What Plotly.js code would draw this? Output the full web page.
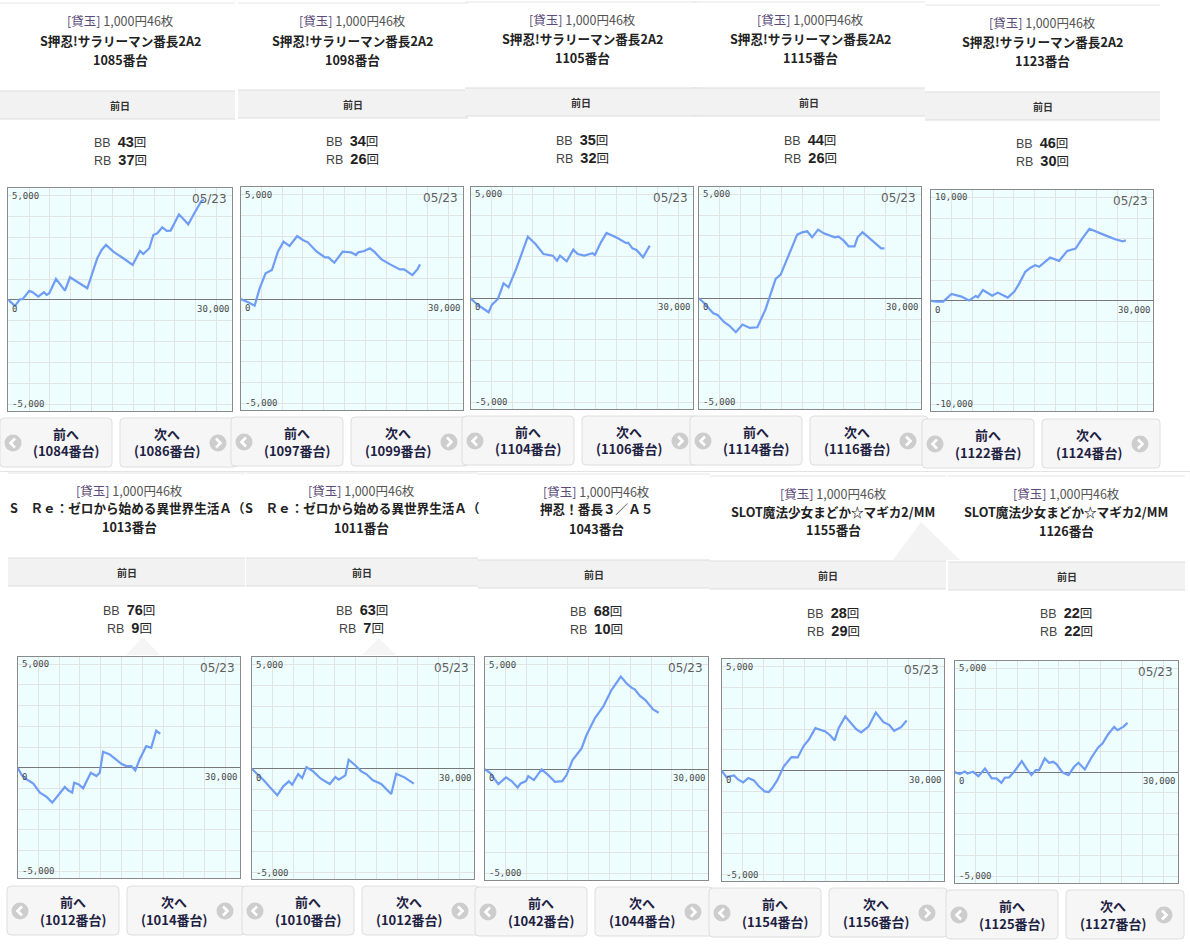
<!DOCTYPE html>
<html><head><meta charset="utf-8">
<script src="https://cdn.plot.ly/plotly-3.0.1.min.js"></script>
<style>html,body{margin:0;padding:0;background:#fff;}#chart{width:1190px;height:946px;}</style>
</head><body><div id="chart"></div>
<script>
// ---------------- data ----------------
const dateLabel = '05/23';
const rateTag = '[貸玉]';
const rateLabel = '1,000円46枚';
const dayLabel = '前日';
const prevLabel = '前へ';
const nextLabel = '次へ';
const machineNames = [
  'S押忍!サラリーマン番長2A2','S押忍!サラリーマン番長2A2','S押忍!サラリーマン番長2A2','S押忍!サラリーマン番長2A2','S押忍!サラリーマン番長2A2',
  'S　Ｒｅ：ゼロから始める異世界生活Ａ（','S　Ｒｅ：ゼロから始める異世界生活Ａ（','押忍！番長３／Ａ５','SLOT魔法少女まどか☆マギカ2/MM','SLOT魔法少女まどか☆マギカ2/MM'
];
const unitNumbers = [1085,1098,1105,1115,1123,1013,1011,1043,1155,1126];
const bbCounts = [43,34,35,44,46,76,63,68,28,22];
const rbCounts = [37,26,32,26,30,9,7,10,29,22];
const prevUnits = [1084,1097,1104,1114,1122,1012,1010,1042,1154,1125];
const nextUnits = [1086,1099,1106,1116,1124,1014,1012,1044,1156,1127];
const yLimits = [5000,5000,5000,5000,10000,5000,5000,5000,5000,5000];
const yTopLabels = ['5,000','5,000','5,000','5,000','10,000','5,000','5,000','5,000','5,000','5,000'];
const yBottomLabels = ['-5,000','-5,000','-5,000','-5,000','-10,000','-5,000','-5,000','-5,000','-5,000','-5,000'];
const xStartLabel = '0';
const xEndLabel = '30,000';

const games1 = [0,960,1680,2064,3024,3504,4320,5136,5520,5904,6864,8160,8880,11376,12816,13440,14064,15120,16560,17904,18960,19440,20304,20880,21456,22176,22800,23376,24576,25920,26784,27840,28176];
const diff1  = [0,-288,32,32,432,368,160,368,240,320,1008,448,1088,560,2000,2400,2640,2320,2000,1680,2352,2208,2480,3120,3200,3488,3312,3328,4112,3632,4160,4768,4800];
const games2 = [0,576,1296,2016,2736,3600,4512,5376,6192,7056,8160,8976,9696,10992,12192,12672,13536,14736,15936,16656,16992,17856,18672,19296,20352,21600,22992,23616,24816,25536,25920];
const diff2  = [0,-80,-192,-320,512,1232,1392,2272,2752,2544,3024,2832,2720,2272,2000,2000,1744,2272,2240,2112,2240,2304,2432,2272,1904,1664,1424,1424,1152,1424,1664];
const games3 = [0,576,1536,2592,3072,3936,4752,5472,6576,7392,8256,9360,10512,11856,12480,12912,13872,14832,15456,16416,17616,17952,18816,19632,21216,22416,22752,23376,23952,24912,25872];
const diff3  = [0,-192,-432,-672,-304,-32,720,528,1408,2128,2960,2608,2128,2048,1808,2048,1776,2336,2128,2048,2160,2080,2688,3136,2896,2656,2672,2400,2320,1968,2528];
const games4 = [0,672,1536,2112,2736,3696,4416,5376,6336,7392,8496,9216,9696,10416,11136,11856,12672,13536,14256,14976,15696,16416,17280,18096,19056,19680,20256,20976,21696,22560,22992,23712,24576,25536,26400,26880];
const diff4  = [0,-192,-512,-720,-800,-1152,-1312,-1632,-1264,-1424,-1392,-832,-512,208,928,1136,1808,2528,3056,3168,3216,2928,3296,3120,3008,2928,2960,2768,2496,2496,2928,3168,2928,2656,2400,2400];
const games5 = [0,816,1776,2976,4416,5520,6480,6816,7536,8880,9696,11136,12096,12816,13680,14496,15120,15696,17280,18576,19776,20976,21936,22992,25296,26736,27792,28272];
const diff5  = [0,-64,-64,672,416,32,480,352,1056,512,800,320,896,1696,2816,3232,3456,3296,4192,3872,4832,5056,6016,6976,6336,5952,5760,5856];
const games6 = [0,576,1296,2256,3216,4176,4992,5856,6816,7296,7872,8160,8832,9456,10560,11376,11856,12336,13296,14016,14976,15696,16416,16992,17616,18576,19296,20016,20592];
const diff6  = [0,-352,-560,-768,-1200,-1408,-1680,-1328,-928,-1088,-1200,-720,-800,-992,-240,-400,-240,768,640,448,192,80,80,-128,400,1040,960,1792,1632];
const games7 = [0,720,1680,2640,3696,4560,5376,5856,6720,7296,7920,8880,9984,11280,12096,12576,13536,14016,14880,15840,16560,17520,18720,20160,20880,22080,23424];
const diff7  = [0,-208,-528,-896,-1280,-848,-608,-768,-256,-448,80,-128,-480,-736,-400,-528,-320,432,192,-128,-256,-560,-736,-1216,-240,-416,-720];
const games8 = [0,768,1968,3072,3888,4752,5184,5952,6288,7104,8208,9168,10128,11184,11808,12672,13968,14688,15888,17088,18288,19632,20448,21168,21648,22368,23184,24288,25104];
const diff8  = [0,-176,-720,-400,-576,-880,-688,-576,-336,-528,-16,-288,-608,-576,-288,432,992,1632,2432,2992,3792,4432,4112,3904,3824,3520,3312,2864,2704];
const games9 = [0,672,1776,2400,3120,3840,4656,5376,6192,6816,7296,8016,8976,10080,10992,11856,12576,13536,14976,15696,16320,16896,17856,18816,19440,20160,21216,22272,23376,24192,24912,25920,26736];
const diff9  = [0,-304,-224,-432,-560,-352,-464,-752,-992,-1024,-832,-464,208,656,640,1200,1488,2048,1888,1696,1456,2048,2608,2208,2000,1840,2128,2800,2336,2208,1920,2096,2416];
const games10 = [0,720,1440,1824,2640,3408,4368,5328,6000,6720,7200,7824,8544,9648,10320,11040,11664,12144,12960,13584,14160,14640,15504,16368,17184,17808,18720,19680,20640,21264,22080,22944,23424,24240,24864];
const diff10  = [0,-96,32,-64,16,-192,176,-304,-304,-512,-272,-256,16,528,176,-144,96,96,656,448,496,384,-16,-144,256,448,128,704,1184,1376,1824,2176,2016,2176,2368];

const gamesList = [games1,games2,games3,games4,games5,games6,games7,games8,games9,games10];
const diffList = [diff1,diff2,diff3,diff4,diff5,diff6,diff7,diff8,diff9,diff10];

// ---------------- layout geometry (pixels) ----------------
const W = 1190, H = 946;
const XMAX = 32170;
const geom = [
 {cx:120, tY:20, ttY:42, uY:58, band:[0,235,91], bbY:143, box:[8.3,188.3,231.7,410.7], bL:0, bY:418},
 {cx:352, tY:20, ttY:42, uY:58, band:[238,468,90], bbY:142, box:[240.7,187.3,463.3,410], bL:231, bY:417},
 {cx:582, tY:19, ttY:40, uY:56, band:[465,697,88], bbY:141, box:[470.7,186.7,693.3,409], bL:462, bY:416},
 {cx:810, tY:19, ttY:40, uY:56, band:[693,925,88], bbY:141, box:[698.7,186.7,921,409], bL:690, bY:416},
 {cx:1042, tY:22, ttY:43, uY:59, band:[925,1160,92], bbY:144, box:[931,190,1152.7,411], bL:922, bY:419},
 {cx:129, tY:490, ttY:509, uY:525, band:[8,245,558], bbY:611, box:[17.7,656.7,240.3,878], bL:7, bY:886, left:8, clip:237},
 {cx:362, tY:490, ttY:509, uY:526, band:[246,478,558], bbY:611, box:[251.7,657.3,474.3,879.3], bL:242, bY:886, left:243, clip:237},
 {cx:596, tY:491, ttY:510, uY:527, band:[478,710,560], bbY:612, box:[484.7,657.3,707.7,880], bL:475, bY:887},
 {cx:833, tY:493, ttY:513, uY:528, band:[710,946,561], bbY:614, box:[721.7,659.3,944.3,881.3], bL:709, bY:888},
 {cx:1066, tY:493, ttY:513, uY:529, band:[948,1185,562], bbY:614, box:[954.7,660.7,1178.3,882.7], bL:946, bY:890}
];

const px = x => x / W;
const py = y => 1 - y / H;
const JP = 'Noto Sans CJK JP, sans-serif';
const LAT = 'Liberation Sans, Arial, sans-serif';
const MONO = 'DejaVu Sans Mono, monospace';

const traces = [];
const layout = {
  width: W, height: H, margin: {l:0, r:0, t:0, b:0},
  paper_bgcolor: '#ffffff', plot_bgcolor: '#eefefe',
  showlegend: false, annotations: [], shapes: []
};

function pAnn(x, y, text, opts) {
  layout.annotations.push(Object.assign({
    xref:'paper', yref:'paper', x:px(x), y:py(y), text:text, showarrow:false,
    xanchor:'center', yanchor:'middle', font:{family:JP, size:13, color:'#333'}
  }, opts || {}));
}
function rectShape(x0,y0,x1,y1,fill,line) {
  layout.shapes.push({type:'rect', xref:'paper', yref:'paper', layer:'below',
    x0:px(x0), x1:px(x1), y0:py(y1), y1:py(y0), fillcolor:fill,
    line:{color:line||'rgba(0,0,0,0)', width:line?1:0}});
}
function lineShape(x0,y0,x1,y1,color,w) {
  layout.shapes.push({type:'line', xref:'paper', yref:'paper', layer:'below',
    x0:px(x0), x1:px(x1), y0:py(y0), y1:py(y1), line:{color:color, width:w||1}});
}
function pathShape(pts, close, fill, line, lw, layer) {
  let d = '';
  pts.forEach((p,i) => {
    if (p[0] === 'Q') d += ' Q' + px(p[1]) + ',' + py(p[2]) + ' ' + px(p[3]) + ',' + py(p[4]);
    else d += (i===0?'M':' L') + px(p[0]) + ',' + py(p[1]);
  });
  if (close) d += ' Z';
  layout.shapes.push({type:'path', xref:'paper', yref:'paper', layer:layer||'below', path:d,
    fillcolor: fill || 'rgba(0,0,0,0)', line:{color: line || 'rgba(0,0,0,0)', width: lw || 0}});
}
function roundRect(x0,y0,x1,y1,r,fill,line) {
  pathShape([[x0+r,y0],[x1-r,y0],['Q',x1,y0,x1,y0+r],[x1,y1-r],['Q',x1,y1,x1-r,y1],
    [x0+r,y1],['Q',x0,y1,x0,y1-r],[x0,y0+r],['Q',x0,y0,x0+r,y0]], true, fill, line, 1);
}
function circleIcon(cx, cy, dir) {
  layout.shapes.push({type:'circle', xref:'paper', yref:'paper', layer:'above',
    x0:px(cx-8.5), x1:px(cx+8.5), y0:py(cy+8.5), y1:py(cy-8.5),
    fillcolor:'#cdcdcd', line:{width:0}});
  const s = dir < 0 ? 1 : -1;
  pathShape([[cx+2*s, cy-4.5],[cx-2.5*s, cy],[cx+2*s, cy+4.5]], false, null, '#ffffff', 2.6, 'above');
}

// faint background triangles
pathShape([[893,560],[921,522],[960,560]], true, '#f3f3f3', null, 0);
pathShape([[126,655],[143,637],[160,655]], true, '#f5f5f5', null, 0);
pathShape([[362,655],[379,638],[396,655]], true, '#f5f5f5', null, 0);
// row separator
lineShape(0, 471.5, W, 471.5, '#e3e3e3', 1);

geom.forEach((g, i) => {
  const n = i + 1;
  const sx = n === 1 ? '' : String(n);
  const ylim = yLimits[i];
  const b = g.box;

  // top separator line of panel
  lineShape(g.band[0], g.tY - 17, g.band[1], g.tY - 17, '#e6e6e6', 1);

  // header texts
  pAnn(g.cx, g.tY, '<span style="color:#5a4a78">' + rateTag + '</span> ' + rateLabel,
       {font:{family:JP, size:12.5, color:'#555'}});
  const tf = {family:JP, size:12.6, color:'#222'};
  if (g.clip) {
    pAnn(g.left, g.ttY - 1.5, '<b>' + machineNames[i] + '</b>',
      {xanchor:'left', width:g.clip, align:'left', font:tf});
  } else {
    pAnn(g.cx, g.ttY - 1.5, '<b>' + machineNames[i] + '</b>', {font:tf});
  }
  pAnn(g.cx, g.uY + 1.5, '<b>' + unitNumbers[i] + '番台</b>', {font:tf});

  // band
  rectShape(g.band[0], g.band[2], g.band[1], g.band[2] + 28, '#f2f2f2');
  lineShape(g.band[0], g.band[2], g.band[1], g.band[2], '#dddddd', 1);
  lineShape(g.band[0], g.band[2] + 28, g.band[1], g.band[2] + 28, '#dddddd', 1);
  pAnn((g.band[0] + g.band[1]) / 2 + (i===0?2:0), g.band[2] + 14, '<b>' + dayLabel + '</b>',
       {font:{family:JP, size:10, color:'#333'}});

  // BB / RB
  const cntTxt = (lab, v) => lab + '&nbsp;&nbsp;<span style="font-size:14.5px;color:#222"><b>' + v +
      '</b></span><span style="font-family:Noto Sans CJK JP;font-size:12.5px;color:#222">回</span>';
  pAnn(g.cx, g.bbY - 1.5, cntTxt('BB', bbCounts[i]), {font:{family:LAT, size:12.5, color:'#444'}});
  pAnn(g.cx, g.bbY + 16.5, cntTxt('RB', rbCounts[i]), {font:{family:LAT, size:12.5, color:'#444'}});

  // buttons
  const L = g.bL, Y = g.bY;
  roundRect(L, Y, L + 112, Y + 49, 4, '#f6f6f6', '#dedede');
  roundRect(L + 120, Y, L + 238, Y + 49, 4, '#f6f6f6', '#dedede');
  circleIcon(L + 13, Y + 25, -1);
  circleIcon(L + 218, Y + 25, 1);
  const bf = {family:JP, size:13, color:'#1e2242'};
  pAnn(L + 66, Y + 15.5, '<b>' + prevLabel + '</b>', {font:bf});
  pAnn(L + 66, Y + 33, '<b>(' + prevUnits[i] + '番台)</b>', {font:bf});
  pAnn(L + 167, Y + 15.5, '<b>' + nextLabel + '</b>', {font:bf});
  pAnn(L + 167, Y + 33, '<b>(' + nextUnits[i] + '番台)</b>', {font:bf});

  // axes
  layout['xaxis' + sx] = {
    domain:[px(b[0]), px(b[2])], range:[0, XMAX], anchor:'y' + sx,
    showgrid:true, gridcolor:'#e2e4e4', gridwidth:1, tick0:0, dtick:3000,
    zeroline:false, showline:true, mirror:true, linecolor:'#8a8a8a', linewidth:1,
    showticklabels:false, ticks:'', fixedrange:true
  };
  layout['yaxis' + sx] = {
    domain:[py(b[3]), py(b[1])], range:[-ylim * 1.064, ylim * 1.072], anchor:'x' + sx,
    showgrid:true, gridcolor:'#e2e4e4', gridwidth:1, tick0:0, dtick:ylim / 5,
    zeroline:true, zerolinecolor:'#777777', zerolinewidth:1,
    showline:true, mirror:true, linecolor:'#8a8a8a', linewidth:1,
    showticklabels:false, ticks:'', fixedrange:true
  };

  traces.push({
    type:'scatter', mode:'lines', x:gamesList[i], y:diffList[i],
    xaxis:'x' + sx, yaxis:'y' + sx,
    line:{color:'#6f9df5', width:2.2}, hoverinfo:'skip'
  });

  const lf = {family:MONO, size:9, color:'#4a4a4a'};
  const ax = {xref:'x' + sx, yref:'y' + sx, showarrow:false};
  layout.annotations.push(Object.assign({x:0, y:ylim, text:yTopLabels[i], xanchor:'left', yanchor:'middle', xshift:2, font:lf}, ax));
  layout.annotations.push(Object.assign({x:0, y:-ylim, text:yBottomLabels[i], xanchor:'left', yanchor:'middle', xshift:2, font:lf}, ax));
  layout.annotations.push(Object.assign({x:0, y:0, text:xStartLabel, xanchor:'left', yanchor:'middle', xshift:2, yshift:-9, font:lf}, ax));
  layout.annotations.push(Object.assign({x:XMAX, y:0, text:xEndLabel, xanchor:'right', yanchor:'middle', xshift:0, yshift:-9, font:lf}, ax));
  layout.annotations.push(Object.assign({x:XMAX, y:ylim * 1.072, text:dateLabel, xanchor:'right', yanchor:'middle', xshift:-3, yshift:-11,
    font:{family:'DejaVu Sans, sans-serif', size:12, color:'#5e5e5e'}}, ax));
});

Plotly.newPlot('chart', traces, layout, {staticPlot:true, displayModeBar:false});
</script>
</body></html>
